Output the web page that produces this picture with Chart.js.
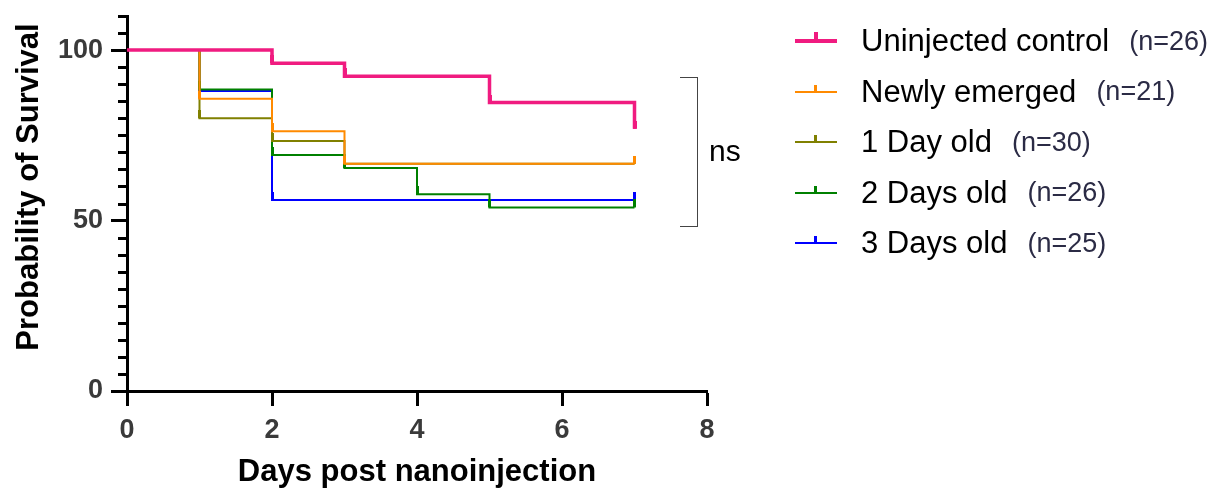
<!DOCTYPE html>
<html>
<head>
<meta charset="utf-8">
<script src="https://cdn.jsdelivr.net/npm/chart.js@4"></script>
<style>
  html, body { margin: 0; padding: 0; background: #fff; }
  #wrap { position: relative; width: 1225px; height: 491px; font-family: 'Liberation Sans', Arial, sans-serif; }
  #legend { position: absolute; left: 795px; top: 0; }
  .item { position: absolute; left: 0; height: 50px; display: flex; align-items: center; white-space: nowrap; }
  .swatch { position: relative; width: 42px; }
  .swatch i { position: absolute; left: 19px; bottom: 100%; }
  .name { margin-left: 24px; font-size: 31px; color: #000; }
  .n { margin-left: 20px; font-size: 27px; color: #2b2b45; }
  #bracket { position: absolute; left: 680px; top: 77px; width: 17px; height: 148px;
             border: 1.5px solid #444; border-left: none; }
  #ns { position: absolute; left: 709px; top: 134px; font-size: 30px; color: #000; }
</style>
</head>
<body>
<div id="wrap">
  <canvas id="survivalChart" width="1225" height="491"></canvas>
  <div id="legend"></div>
  <div id="bracket"></div>
  <div id="ns">ns</div>
</div>
<script>
// Kaplan-Meier steps (day, % surviving)
const controlDays = [0, 2, 3, 5, 7];
const controlSurv = [100, 96.15, 92.31, 84.62, 76.92];
const newlyDays = [0, 1, 2, 3, 7];
const newlySurv = [100, 85.71, 76.19, 66.67, 66.67];
const day1Days = [0, 1, 2, 3, 7];
const day1Surv = [100, 80.0, 73.33, 66.67, 66.67];
const day2Days = [0, 1, 2, 3, 4, 5, 7];
const day2Surv = [100, 88.46, 69.23, 65.38, 57.69, 53.85, 53.85];
const day3Days = [0, 1, 2, 7];
const day3Surv = [100, 88.0, 56.0, 56.0];

const groupNames = ['Uninjected control', 'Newly emerged', '1 Day old', '2 Days old', '3 Days old'];
const groupN = [26, 21, 30, 26, 25];

const xTicks = [0, 2, 4, 6, 8];
const yLabels = [0, 50, 100];

const colors = ['#f01b80', '#ff8a00', '#808000', '#008000', '#0000ff'];
const widths = [3.5, 2, 2, 2, 2];

const FONT = "'Liberation Sans', Arial, sans-serif";

// censor tick: coloured top half, so it points up from the line
function censorMark(color, w) {
    const c = document.createElement('canvas');
    c.width = w;
    c.height = 16;
    const g = c.getContext('2d');
    g.fillStyle = color;
    g.fillRect(0, 0, w, 8);
    return c;
}

const series = [
    [controlDays, controlSurv],
    [newlyDays, newlySurv],
    [day1Days, day1Surv],
    [day2Days, day2Surv],
    [day3Days, day3Surv]
];

const datasets = series.map(([days, surv], i) => ({
    label: groupNames[i],
    data: days.map((d, j) => ({x: d, y: surv[j]})),
    stepped: 'before',
    borderColor: colors[i],
    backgroundColor: colors[i],
    borderWidth: widths[i],
    fill: false,
    pointStyle: censorMark(colors[i], i === 0 ? 4 : 3),
    pointRadius: days.map((d, j) => j === 0 ? 0 : 4),
    clip: false
}));

// legend
const legend = document.getElementById('legend');
groupNames.forEach((name, i) => {
    const item = document.createElement('div');
    item.className = 'item';
    item.style.top = (16 + i * 50.5) + 'px';
    const sw = document.createElement('span');
    sw.className = 'swatch';
    sw.style.height = (i === 0 ? 4 : 2) + 'px';
    sw.style.background = colors[i];
    const tk = document.createElement('i');
    tk.style.width = (i === 0 ? 4 : 3) + 'px';
    tk.style.height = (i === 0 ? 7 : 6) + 'px';
    tk.style.background = colors[i];
    sw.appendChild(tk);
    const nm = document.createElement('span');
    nm.className = 'name';
    nm.textContent = name;
    const n = document.createElement('span');
    n.className = 'n';
    n.textContent = '(n=' + groupN[i] + ')';
    item.append(sw, nm, n);
    legend.appendChild(item);
});

// minor y ticks + axis titles
const extras = {
    id: 'extras',
    afterDraw(chart) {
        const ctx = chart.ctx;
        const y = chart.scales.y;
        ctx.save();
        ctx.strokeStyle = '#000';
        ctx.lineWidth = 3;
        y.ticks.forEach(t => {
            if (yLabels.includes(t.value)) return;
            const py = Math.round(y.getPixelForValue(t.value)) + 0.5;
            ctx.beginPath();
            ctx.moveTo(y.right - 9, py);
            ctx.lineTo(y.right, py);
            ctx.stroke();
        });
        ctx.fillStyle = '#000';
        ctx.font = 'bold 31px ' + FONT;
        ctx.textAlign = 'center';
        ctx.textBaseline = 'alphabetic';
        ctx.fillText('Days post nanoinjection', (chart.chartArea.left + chart.chartArea.right) / 2, 481);
        ctx.translate(38, 187);
        ctx.rotate(-Math.PI / 2);
        ctx.fillText('Probability of Survival', 0, 0);
        ctx.restore();
    }
};

const ctx = document.getElementById('survivalChart').getContext('2d');
new Chart(ctx, {
    type: 'line',
    data: { datasets: datasets },
    plugins: [extras],
    options: {
        responsive: false,
        animation: false,
        events: [],
        layout: { padding: { left: 0, right: 518, top: 16, bottom: 0 } },
        plugins: {
            legend: { display: false },
            tooltip: { enabled: false }
        },
        scales: {
            x: {
                type: 'linear',
                min: 0,
                max: 8,
                afterBuildTicks: s => { s.ticks = xTicks.map(v => ({value: v})); },
                afterFit: s => { s.height = 100; s.paddingLeft = 0; s.paddingRight = 0; },
                ticks: {
                    color: '#3a3a3a',
                    font: { family: FONT, size: 27, weight: 'bold' },
                    padding: 8,
                    maxRotation: 0
                },
                grid: {
                    drawOnChartArea: false,
                    tickLength: 15,
                    tickWidth: 3,
                    tickColor: '#000'
                },
                border: { color: '#000', width: 3 }
            },
            y: {
                min: 0,
                max: 110,
                afterFit: s => { s.width = 127; s.paddingTop = 0; s.paddingBottom = 0; },
                ticks: {
                    stepSize: 5,
                    autoSkip: false,
                    color: '#3a3a3a',
                    font: { family: FONT, size: 27, weight: 'bold' },
                    padding: 8,
                    callback: v => yLabels.includes(v) ? v : ''
                },
                grid: {
                    drawOnChartArea: false,
                    tickLength: 16,
                    tickWidth: 3,
                    tickColor: c => yLabels.includes(c.tick.value) ? '#000' : 'rgba(0,0,0,0)'
                },
                border: { color: '#000', width: 3 }
            }
        }
    }
});
</script>
</body>
</html>
